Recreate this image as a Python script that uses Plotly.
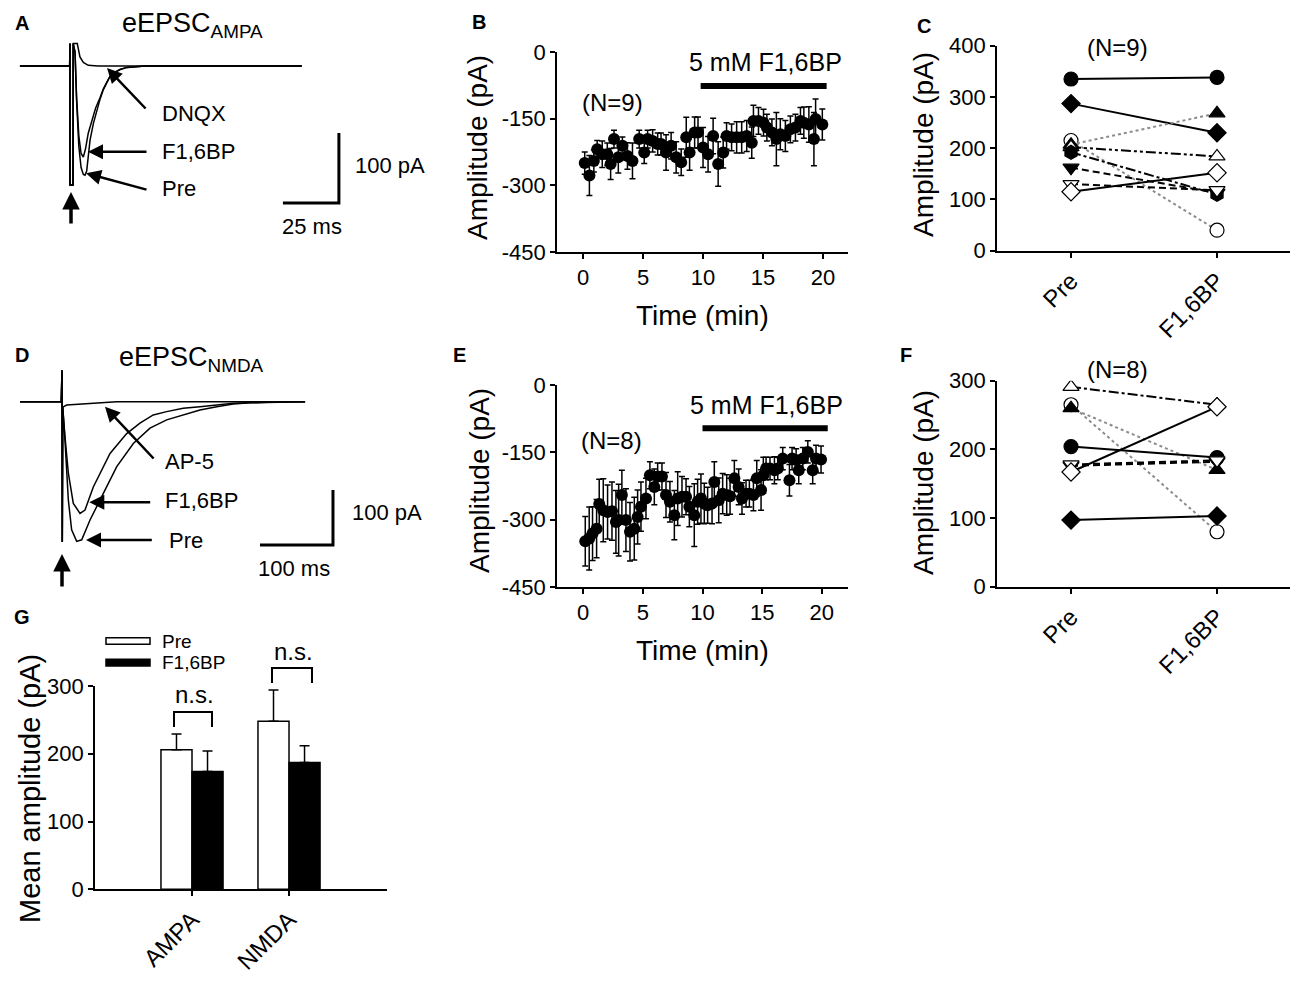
import plotly.graph_objects as go

# page offset of the plot div inside the browser (body margin) and figure size
OFF = 8
W, H = 1300 - 2 * OFF, 985 - 2 * OFF
FONT = "Liberation Sans, Arial, Helvetica, sans-serif"

# ---------------- Panel A : eEPSC AMPA traces (time ms, current pA) ----------------
a_pre_t = [-22.8, -0.6, -0.45, -0.45, 0.9, 1.0, 1.8, 2.5, 3.5, 4.5, 5.5, 6.25, 7.0, 8.5,
           10.0, 11.5, 13.0, 14.4, 16.0, 17.4, 19.5, 21.9, 25.0, 27.8, 33.0, 40.0, 103.0]
a_pre_i = [0, 0, 32, -170, -170, 32, 20, -50, -115, -145, -155, -156, -150, -106,
           -82, -63, -47, -34, -24, -15, -9, -5, -2, -1, 0, 0, 0]
a_f16bp_t = [-22.8, -0.6, -0.45, -0.45, 0.9, 1.0, 1.8, 2.5, 3.5, 4.5, 5.5, 6.5, 7.7, 9.5,
             11.0, 13.0, 14.4, 16.0, 17.4, 19.5, 21.9, 25.0, 27.8, 33.0, 40.0, 103.0]
a_f16bp_i = [0, 0, 32, -170, -170, 32, 20, -45, -100, -125, -130, -118, -96, -76,
             -60, -45, -33, -23, -15, -9, -5, -2, -1, 0, 0, 0]
a_dnqx_t = [-22.8, -0.6, -0.45, -0.45, 0.9, 1.0, 2.8, 4.0, 5.5, 7.7, 12.0, 103.0]
a_dnqx_i = [0, 0, 32, -170, -170, 32, 32, 13, 5, 1, 0, 0]

# ---------------- Panel D : eEPSC NMDA traces (time ms, current pA) ----------------
d_pre_t = [-57.5, -1.0, 0.0, 0.4, 1.0, 4.1, 8.7, 13.2, 20.1, 27.0, 38.4, 52.0, 75.0, 97.7,
           120.5, 143.4, 166.0, 189.0, 212.0, 234.7, 257.5, 280.0, 333.0]
d_pre_i = [0, 0, 57, -255, -10, -70, -179, -233, -254, -251, -215, -179, -118, -76,
           -48, -33, -24, -15, -9, -4, -2, -1, 0]
d_f16bp_t = [-57.5, -1.0, 0.0, 0.4, 1.0, 4.1, 8.7, 15.5, 24.7, 31.5, 42.9, 65.8, 88.6,
             106.8, 125.0, 143.4, 166.0, 189.0, 212.0, 235.0, 280.0, 333.0]
d_f16bp_i = [0, 0, 57, -255, -10, -64, -130, -185, -203, -197, -155, -94, -58,
             -39, -24, -18, -12, -9, -6, -3, -1, 0]
d_ap5_t = [-57.5, -1.0, 0.0, 0.4, 1.0, 6.4, 28.8, 52.0, 75.0, 333.0]
d_ap5_i = [0, 0, 57, -255, -10, -6, -4, -2, 0, 0]

# ---------------- Panel B : AMPA time course (N=9) ----------------
b_time = [0.14, 0.53, 0.90, 1.18, 1.60, 2.02, 2.30, 2.58, 2.94, 3.28, 3.70, 4.12, 4.68, 5.10,
          5.38, 5.80, 6.22, 6.50, 6.92, 7.34, 7.76, 8.18, 8.60, 8.88, 9.30, 9.58, 10.0, 10.42,
          10.84, 11.26, 11.68, 11.96, 12.38, 12.80, 13.22, 13.64, 14.06, 14.20, 14.62, 15.04,
          15.32, 15.74, 16.11, 16.44, 16.86, 17.28, 17.70, 18.12, 18.40, 18.82, 19.24, 19.38, 19.94]
b_amp = [-250, -278, -245, -219, -230, -230, -252, -196, -237, -211, -234, -245, -196, -226,
         -196, -200, -207, -207, -226, -211, -237, -248, -192, -226, -181, -181, -215, -230,
         -189, -252, -226, -189, -192, -192, -192, -189, -204, -155, -155, -159,
         -170, -181, -196, -185, -189, -174, -170, -155, -159, -163, -196, -151, -163]
b_sem = [25, 45, 25, 20, 30, 25, 35, 20, 35, 20, 30, 40, 20, 25, 20, 25, 25, 25, 40, 30,
         35, 30, 45, 40, 35, 35, 45, 40, 40, 50, 35, 30, 30, 35, 35, 35, 35, 35, 30, 30,
         30, 30, 60, 35, 35, 30, 30, 30, 35, 40, 60, 45, 35]

# ---------------- Panel E : NMDA time course (N=8) ----------------
e_time = [0.17, 0.50, 0.78, 1.12, 1.34, 1.68, 2.04, 2.41, 2.74, 2.97, 3.24, 3.58, 3.92, 4.28,
          4.56, 4.84, 5.26, 5.59, 5.96, 6.24, 6.60, 6.94, 7.27, 7.64, 7.92, 8.28, 8.62, 8.90,
          9.31, 9.59, 9.87, 10.15, 10.43, 10.80, 10.99, 11.36, 11.69, 12.03, 12.31, 12.67,
          13.03, 13.31, 13.65, 13.93, 14.27, 14.55, 14.91, 15.10, 15.33, 15.66, 16.03, 16.31,
          16.73, 17.29, 17.51, 17.85, 18.07, 18.41, 18.83, 19.24, 19.52, 19.94]
e_amp = [-348, -342, -331, -320, -265, -279, -283, -281, -305, -301,
         -245, -301, -327, -320, -294, -271, -253, -201, -227, -204,
         -204, -245, -260, -290, -253, -249, -249, -271, -290, -260,
         -253, -264, -268, -264, -216, -257, -242, -245, -248, -208,
         -227, -253, -242, -242, -245, -208, -234, -201, -186, -186,
         -190, -186, -164, -212, -164, -167, -190, -164, -149, -190,
         -164, -166]
e_sem = [55, 70, 60, 65, 55, 70, 60, 65, 70, 80,
         55, 70, 65, 70, 60, 55, 45, 30, 40, 30,
         30, 50, 45, 55, 60, 45, 40, 45, 70, 50,
         55, 45, 40, 45, 45, 50, 45, 45, 40, 40,
         40, 35, 30, 30, 35, 40, 45, 40, 25, 25,
         30, 25, 25, 35, 25, 25, 30, 25, 25, 30,
         30, 30]

# ---------------- Panel C : AMPA individual cells ----------------
conditions = ["Pre", "F1,6BP"]
c_pre = [335, 287, 215, 207, 202, 192, 162, 130, 115]
c_f16bp = [338, 230, 40, 268, 184, 110, 113, 118, 152]

# ---------------- Panel F : NMDA individual cells ----------------
f_pre = [291, 265, 260, 204, 176, 178, 167, 97]
f_f16bp = [265, 80, 170, 188, 182, 184, 262, 103]

# ---------------- Panel G : mean amplitudes ----------------
g_groups = ["AMPA", "NMDA"]
g_pre_mean = [206, 248]
g_pre_sem = [23, 46]
g_f16bp_mean = [174, 187]
g_f16bp_sem = [30, 25]

# ---------------- styles ----------------
c_symbols = ["circle", "diamond", "circle", "triangle-up", "triangle-up", "hexagon",
             "triangle-down", "triangle-down", "diamond"]
c_filled = [True, True, False, True, False, True, True, False, False]
c_dash = ["solid", "solid", "dot", "dot", "10px,3px,3px,3px,3px,3px", "10px,3px,3px,3px",
          "7px,4px", "7px,4px", "solid"]
c_color = ["black", "black", "#8c8c8c", "#8c8c8c", "black", "black", "black", "black", "black"]

f_symbols = ["triangle-up", "circle", "triangle-up", "circle", "triangle-down", "triangle-down",
             "diamond", "diamond"]
f_filled = [False, False, True, True, True, False, False, True]
f_dash = ["10px,3px,3px,3px", "dot", "dot", "solid", "7px,4px", "7px,4px", "solid", "solid"]
f_color = ["black", "#8c8c8c", "#8c8c8c", "black", "black", "black", "black", "black"]


# screen pixel -> paper fraction helpers
def PX(x):
    return (x - OFF) / W


def PY(y):
    return 1 - (y - OFF) / H


def px_x(a, b):
    return [PX(a), PX(b)]


def px_y(top, bottom):
    return [PY(bottom), PY(top)]


fig = go.Figure()

# Panel A traces
for t, i in [(a_dnqx_t, a_dnqx_i), (a_f16bp_t, a_f16bp_i), (a_pre_t, a_pre_i)]:
    fig.add_trace(go.Scatter(x=t, y=i, mode="lines", line=dict(color="black", width=1.5),
                             xaxis="x6", yaxis="y6", showlegend=False, hoverinfo="skip"))
# scale bars A (25 ms, 100 pA)
fig.add_trace(go.Scatter(x=[94.6, 94.6 + 25, 94.6 + 25], y=[-195.7, -195.7, -195.7 + 100],
                         mode="lines", line=dict(color="black", width=3),
                         xaxis="x6", yaxis="y6", showlegend=False, hoverinfo="skip"))

# Panel D traces
for t, i in [(d_ap5_t, d_ap5_i), (d_f16bp_t, d_f16bp_i), (d_pre_t, d_pre_i)]:
    fig.add_trace(go.Scatter(x=t, y=i, mode="lines", line=dict(color="black", width=1.5),
                             xaxis="x7", yaxis="y7", showlegend=False, hoverinfo="skip"))
fig.add_trace(go.Scatter(x=[271.2, 271.2 + 100, 271.2 + 100], y=[-260.5, -260.5, -260.5 + 100],
                         mode="lines", line=dict(color="black", width=3),
                         xaxis="x7", yaxis="y7", showlegend=False, hoverinfo="skip"))

# Panel B & E time courses
for t, v, e, xa, ya in [(b_time, b_amp, b_sem, "x", "y"), (e_time, e_amp, e_sem, "x3", "y3")]:
    fig.add_trace(go.Scatter(x=t, y=v, mode="markers",
                             marker=dict(color="black", size=12),
                             error_y=dict(type="data", array=e, color="black", thickness=1.5, width=3),
                             xaxis=xa, yaxis=ya, showlegend=False))

# Panel C & F paired plots
for pre, post, syms, filled, dashes, cols, xa, ya in [
        (c_pre, c_f16bp, c_symbols, c_filled, c_dash, c_color, "x2", "y2"),
        (f_pre, f_f16bp, f_symbols, f_filled, f_dash, f_color, "x4", "y4")]:
    for k in range(len(pre)):
        fig.add_trace(go.Scatter(
            x=[0, 1], y=[pre[k], post[k]], mode="lines+markers",
            line=dict(color=cols[k], width=2, dash=dashes[k]),
            marker=dict(symbol=syms[k], size=14,
                        color="black" if filled[k] else "white",
                        line=dict(color="black", width=1.2)),
            xaxis=xa, yaxis=ya, showlegend=False))

# Panel G bars
fig.add_trace(go.Bar(x=[0, 1], y=g_pre_mean, name="Pre",
                     marker=dict(color="white", line=dict(color="black", width=1.5)),
                     error_y=dict(type="data", array=g_pre_sem, arrayminus=[0, 0], symmetric=False,
                                  color="black", thickness=1.5, width=5),
                     xaxis="x5", yaxis="y5", showlegend=False))
fig.add_trace(go.Bar(x=[0, 1], y=g_f16bp_mean, name="F1,6BP",
                     marker=dict(color="black", line=dict(color="black", width=1.5)),
                     error_y=dict(type="data", array=g_f16bp_sem, arrayminus=[0, 0], symmetric=False,
                                  color="black", thickness=1.5, width=5),
                     xaxis="x5", yaxis="y5", showlegend=False))


def axis_style(**kw):
    d = dict(showline=True, linecolor="black", linewidth=1.6, ticks="outside",
             ticklen=5, tickwidth=1.6, tickcolor="black", showgrid=False,
             zeroline=False, tickfont=dict(family=FONT, size=22, color="black"),
             fixedrange=True, automargin=False)
    d.update(kw)
    return d


hidden = dict(visible=False, showgrid=False, zeroline=False, fixedrange=True, automargin=False)

layout = dict(
    width=W, height=H, autosize=False,
    margin=dict(l=0, r=0, t=0, b=0, pad=0, autoexpand=False),
    paper_bgcolor="white", plot_bgcolor="rgba(0,0,0,0)",
    font=dict(family=FONT, color="black"),
    barmode="group", bargap=0.36, bargroupgap=0,
    xaxis=axis_style(domain=px_x(557, 848), range=[-2.17, 22.08], tickvals=[0, 5, 10, 15, 20], anchor="y"),
    yaxis=axis_style(domain=px_y(52, 252), range=[-450, 0], tickvals=[0, -150, -300, -450],
                     ticktext=["0", "-150", "-300", "-450"], anchor="x"),
    xaxis3=axis_style(domain=px_x(557, 848), range=[-2.2, 22.2], tickvals=[0, 5, 10, 15, 20], anchor="y3"),
    yaxis3=axis_style(domain=px_y(385, 587), range=[-450, 0], tickvals=[0, -150, -300, -450],
                      ticktext=["0", "-150", "-300", "-450"], anchor="x3"),
    xaxis2=axis_style(domain=px_x(997, 1290), range=[-0.507, 1.5], tickvals=[0, 1], ticktext=conditions,
                      tickangle=-45, tickfont=dict(family=FONT, size=24, color="black"), anchor="y2"),
    yaxis2=axis_style(domain=px_y(45.7, 250.7), range=[0, 400], tickvals=[0, 100, 200, 300, 400], anchor="x2"),
    xaxis4=axis_style(domain=px_x(997, 1290), range=[-0.507, 1.5], tickvals=[0, 1], ticktext=conditions,
                      tickangle=-45, tickfont=dict(family=FONT, size=24, color="black"), anchor="y4"),
    yaxis4=axis_style(domain=px_y(380.7, 586.7), range=[0, 300], tickvals=[0, 100, 200, 300], anchor="x4"),
    xaxis5=axis_style(domain=px_x(95, 387), range=[-1.0, 2.01], tickvals=[0, 1], ticktext=g_groups,
                      tickangle=-45, tickfont=dict(family=FONT, size=24, color="black"), anchor="y5"),
    yaxis5=axis_style(domain=px_y(686, 889.3), range=[0, 300], tickvals=[0, 100, 200, 300], anchor="x5"),
    xaxis6=dict(hidden, domain=px_x(OFF, 440), range=[(OFF - 71) / 2.24, 164.73], anchor="y6"),
    yaxis6=dict(hidden, domain=px_y(OFF, 250), range=[-262.86, (66 - OFF) / 0.7], anchor="x6"),
    xaxis7=dict(hidden, domain=px_x(OFF, 440), range=[(OFF - 62) / 0.73, 517.81], anchor="y7"),
    yaxis7=dict(hidden, domain=px_y(340, 600), range=[-360.5, 112.2], anchor="x7"),
)

ann = []


def text(x, y, s, size=22, anchor="center", angle=0, bold=False):
    ann.append(dict(x=PX(x), y=PY(y), xref="paper", yref="paper", text=("<b>%s</b>" % s) if bold else s,
                    showarrow=False, xanchor=anchor, yanchor="middle", textangle=angle,
                    font=dict(family=FONT, size=size, color="black")))


def arrow(tx, ty, hx, hy, width=2.5, size=1.2):
    ann.append(dict(x=PX(hx), y=PY(hy), xref="paper", yref="paper", text="", showarrow=True,
                    ax=tx - hx, ay=ty - hy, arrowhead=2, arrowsize=size, arrowwidth=width,
                    arrowcolor="black"))


# panel letters
for L, x, y in [("A", 22, 23), ("B", 479, 22), ("C", 924, 26), ("D", 22, 355),
                ("E", 459, 355), ("F", 906, 355), ("G", 22, 617)]:
    text(x, y, L, size=20, bold=True)

# Panel A annotations
text(120, 25, "eEPSC<sub>AMPA</sub>", size=27, anchor="left")
arrow(147, 110, 107, 68)
arrow(148, 151.7, 88, 151.7)
arrow(148, 190, 86, 173.3)
text(160, 113, "DNQX", anchor="left")
text(160, 151, "F1,6BP", anchor="left")
text(160, 189, "Pre", anchor="left")
text(353, 165, "100 pA", anchor="left")
text(312, 227, "25 ms")
arrow(71, 225, 71, 192, width=3.5, size=1.0)

# Panel D annotations
text(117, 359, "eEPSC<sub>NMDA</sub>", size=27, anchor="left")
arrow(155, 460, 105, 406.7)
arrow(151.7, 502.3, 89.3, 502.3)
arrow(153.3, 540, 86, 540)
text(163, 461, "AP-5", anchor="left")
text(163, 500, "F1,6BP", anchor="left")
text(167, 540, "Pre", anchor="left")
text(350, 513, "100 pA", anchor="left")
text(294, 568, "100 ms")
arrow(62, 588, 62, 554, width=3.5, size=1.0)

# Panel B / E annotations
text(478, 148, "Amplitude (pA)", size=28, angle=-90)
text(702, 316, "Time (min)", size=28)
text(765, 62, "5 mM F1,6BP", size=25)
text(612, 103, "(N=9)", size=24)
text(480, 481, "Amplitude (pA)", size=28, angle=-90)
text(702, 650, "Time (min)", size=28)
text(766, 405, "5 mM F1,6BP", size=25)
text(611, 440, "(N=8)", size=24)

# Panel C / F annotations
text(923, 145, "Amplitude (pA)", size=28, angle=-90)
text(1117, 48, "(N=9)", size=24)
text(923, 483, "Amplitude (pA)", size=28, angle=-90)
text(1117, 370, "(N=8)", size=24)

# Panel G annotations
text(30, 789, "Mean amplitude (pA)", size=29, angle=-90)
text(160, 641, "Pre", size=19, anchor="left")
text(160, 662, "F1,6BP", size=19, anchor="left")
text(195, 694, "n.s.", size=24)
text(293, 651, "n.s.", size=24)

shapes = []
# treatment bars (data coordinates)
shapes.append(dict(type="line", xref="x", yref="y", x0=9.8, x1=20.3, y0=-76.5, y1=-76.5,
                   line=dict(color="black", width=6)))
shapes.append(dict(type="line", xref="x3", yref="y3", x0=10.0, x1=20.5, y0=-96.5, y1=-96.5,
                   line=dict(color="black", width=6)))
# legend boxes for G
shapes.append(dict(type="rect", xref="paper", yref="paper", x0=PX(106), x1=PX(150), y0=PY(644.3), y1=PY(637.7),
                   line=dict(color="black", width=1.5), fillcolor="white"))
shapes.append(dict(type="rect", xref="paper", yref="paper", x0=PX(106), x1=PX(150), y0=PY(666), y1=PY(659.3),
                   line=dict(color="black", width=1.5), fillcolor="black"))
# significance brackets
for x0, x1, top, bot in [(174, 212, 712, 727), (272, 312, 668, 683)]:
    shapes.append(dict(type="path", xref="paper", yref="paper",
                       path="M %f %f L %f %f L %f %f L %f %f" % (PX(x0), PY(bot), PX(x0), PY(top),
                                                               PX(x1), PY(top), PX(x1), PY(bot)),
                       line=dict(color="black", width=2)))

layout["annotations"] = ann
layout["shapes"] = shapes
fig.update_layout(**layout)
fig.write_html("out.html")
